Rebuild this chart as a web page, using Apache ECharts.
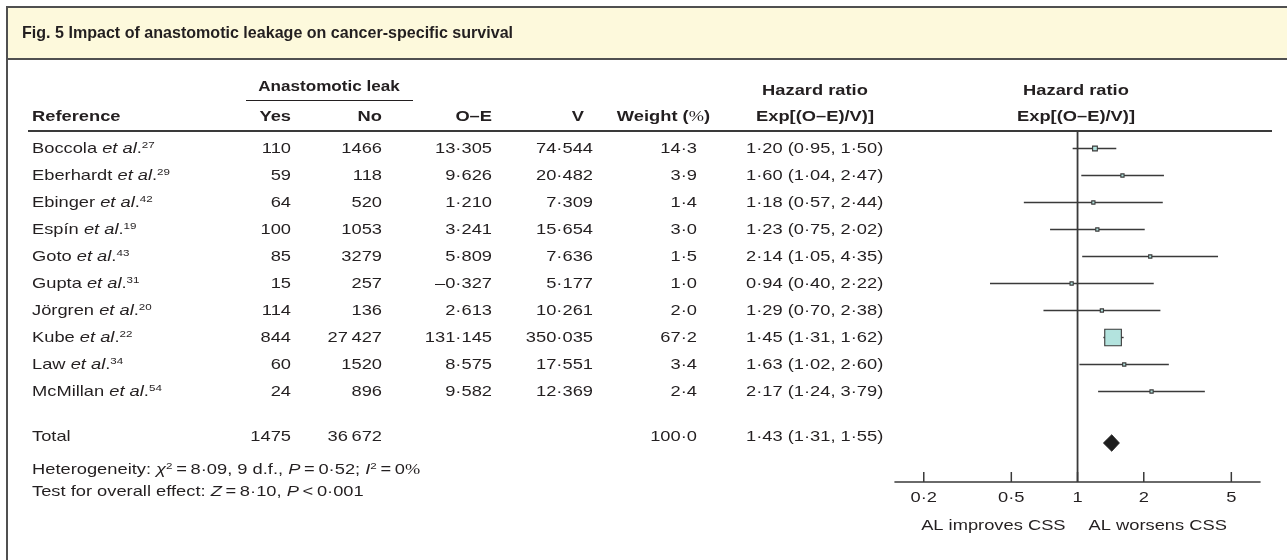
<!DOCTYPE html>
<html><head><meta charset="utf-8">
<script src="https://cdn.jsdelivr.net/npm/echarts@6/dist/echarts.min.js"></script>
<style>html,body{margin:0;padding:0;background:#fff}#c{width:1287px;height:560px}</style>
</head><body><div id="c"></div>
<script>
// ---------------- data ----------------
const studies   = ['Boccola','Eberhardt','Ebinger','Espín','Goto','Gupta','Jörgren','Kube','Law','McMillan'];
const refNums   = ['27','29','42','19','43','31','20','22','34','54'];
const leakYes   = [110, 59, 64, 100, 85, 15, 114, 844, 60, 24];
const leakNo    = [1466, 118, 520, 1053, 3279, 257, 136, 27427, 1520, 896];
const oMinusE   = [13.305, 9.626, 1.210, 3.241, 5.809, -0.327, 2.613, 131.145, 8.575, 9.582];
const varianceV = [74.544, 20.482, 7.309, 15.654, 7.636, 5.177, 10.261, 350.035, 17.551, 12.369];
const weights   = [14.3, 3.9, 1.4, 3.0, 1.5, 1.0, 2.0, 67.2, 3.4, 2.4];
const hazard    = [1.20, 1.60, 1.18, 1.23, 2.14, 0.94, 1.29, 1.45, 1.63, 2.17];
const ciLow     = [0.95, 1.04, 0.57, 0.75, 1.05, 0.40, 0.70, 1.31, 1.02, 1.24];
const ciHigh    = [1.50, 2.47, 2.44, 2.02, 4.35, 2.22, 2.38, 1.62, 2.60, 3.79];
const totalYes = 1475, totalNo = 36672, totalWeight = 100.0;
const totalHR = 1.43, totalLow = 1.31, totalHigh = 1.55;
const heteroChi2 = 8.09, heteroDf = 9, heteroP = 0.52, heteroI2 = 0;
const testZ = 8.10, testP = 0.001;
const axisTicks = [0.2, 0.5, 1, 2, 5];
const axisMin = 0.148, axisMax = 6.75;

// ---------------- layout / style ----------------
const FONT = '"Liberation Sans", Arial, Helvetica, sans-serif';
const FS = 15;
const SX = 1.22;          // horizontal stretch of the reference typography
const INK = '#231f20';
const TOP = 131, BOTTOM = 482, ROW0 = 148.5, ROWH = 27;
const yMin = (TOP - ROW0) / ROWH, yMax = (BOTTOM - ROW0) / ROWH;
const rowOf = px => (px - ROW0) / ROWH;
const ROW_TOTAL = rowOf(437), ROW_DIAMOND = rowOf(443), ROW_HET = rowOf(470), ROW_TEST = rowOf(492);
const COL = {name: 32, yes: 291, no: 382, oe: 492, v: 593, w: 697, hr: 746};

const RICH = {
  i: {fontStyle: 'italic', fontFamily: FONT, fontSize: FS, lineHeight: 17},
  s: {fontSize: 9.5, fontFamily: FONT, verticalAlign: 'top', lineHeight: 17},
  p: {fontFamily: '"Liberation Serif", "Times New Roman", serif', fontSize: FS, lineHeight: 17},
  pb: {fontFamily: '"Liberation Serif", "Times New Roman", serif', fontSize: FS, lineHeight: 17}
};

function fmt(v, d) { return (v < 0 ? '–' : '') + Math.abs(v).toFixed(d).replace('.', '·'); }
function fmtInt(n) { return n >= 10000 ? String(n).replace(/\B(?=(\d{3})+(?!\d))/g, '\u2009') : String(n); }
function hrText(h, l, u) { return fmt(h, 2) + ' (' + fmt(l, 2) + ', ' + fmt(u, 2) + ')'; }

function txt(x, y, text, align, extra, sx) {
  return {
    type: 'text', x: x, y: y, scaleX: sx || SX, silent: true,
    style: Object.assign({
      text: text, fontFamily: FONT, fontSize: FS, fill: INK, lineHeight: 17,
      align: align, textAlign: align, verticalAlign: 'middle', textVerticalAlign: 'middle', rich: RICH
    }, extra || {})
  };
}
const B = {fontWeight: 'bold'};

const chart = echarts.init(document.getElementById('c'), null, {renderer: 'canvas'});

const option = {
  backgroundColor: '#ffffff',
  animation: false,
  grid: [
    {left: 0, right: 0, top: TOP, bottom: 560 - BOTTOM, outerBoundsMode: 'none'},
    {left: 895, right: 27, top: TOP, bottom: 560 - BOTTOM, outerBoundsMode: 'none'}
  ],
  xAxis: [
    {gridIndex: 0, type: 'value', min: 0, max: 1287, show: false},
    {gridIndex: 1, type: 'log', logBase: 10, min: axisMin, max: axisMax, position: 'bottom',
     axisLine: {show: true, onZero: false, lineStyle: {color: '#3a3a3a', width: 1.6}},
     axisTick: {show: false}, axisLabel: {show: false}, splitLine: {show: false}}
  ],
  yAxis: [
    {gridIndex: 0, type: 'value', inverse: true, min: yMin, max: yMax, show: false},
    {gridIndex: 1, type: 'value', inverse: true, min: yMin, max: yMax, show: false}
  ],
  graphic: [
    // frame and title band
    {type: 'rect', silent: true, z: 0, shape: {x: 7, y: 7, width: 1300, height: 52},
     style: {fill: '#fdf9dc', stroke: '#505050', lineWidth: 2}},
    {type: 'line', silent: true, shape: {x1: 7, y1: 7, x2: 7, y2: 560}, style: {stroke: '#505050', lineWidth: 2}},
    txt(22, 33, 'Fig. 5 Impact of anastomotic leakage on cancer-specific survival', 'left', {fontWeight: 'bold', fontSize: 17}, 0.945),
    // column headers
    txt(329, 87, 'Anastomotic leak', 'center', B, 1.14),
    {type: 'line', silent: true, shape: {x1: 246, y1: 100.5, x2: 413, y2: 100.5}, style: {stroke: INK, lineWidth: 1.2}},
    txt(COL.name, 117, 'Reference', 'left', B),
    txt(COL.yes, 117, 'Yes', 'right', B),
    txt(COL.no, 117, 'No', 'right', B),
    txt(COL.oe, 117, 'O–E', 'right', B),
    txt(584, 117, 'V', 'right', B),
    txt(710, 117, 'Weight ({pb|%})', 'right', B),
    txt(815, 91, 'Hazard ratio', 'center', B),
    txt(815, 117, 'Exp[(O–E)/V)]', 'center', B),
    txt(1076, 91, 'Hazard ratio', 'center', B),
    txt(1076, 117, 'Exp[(O–E)/V)]', 'center', B),
    {type: 'line', silent: true, shape: {x1: 28, y1: 131, x2: 1272, y2: 131}, style: {stroke: '#3a3a3a', lineWidth: 2}}
  ],
  series: [
    // table rows
    {
      type: 'custom', xAxisIndex: 0, yAxisIndex: 0, clip: false, silent: true,
      data: studies.map((s, i) => [i]),
      renderItem: function (params, api) {
        const i = api.value(0);
        const X = v => api.coord([v, i])[0];
        const y = api.coord([0, i])[1];
        return {type: 'group', children: [
          txt(X(COL.name), y, studies[i] + ' {i|et al}.{s|' + refNums[i] + '}', 'left'),
          txt(X(COL.yes), y, fmtInt(leakYes[i]), 'right'),
          txt(X(COL.no), y, fmtInt(leakNo[i]), 'right'),
          txt(X(COL.oe), y, fmt(oMinusE[i], 3), 'right'),
          txt(X(COL.v), y, fmt(varianceV[i], 3), 'right'),
          txt(X(COL.w), y, fmt(weights[i], 1), 'right'),
          txt(X(COL.hr), y, hrText(hazard[i], ciLow[i], ciHigh[i]), 'left')
        ]};
      }
    },
    // total + footnotes
    {
      type: 'custom', xAxisIndex: 0, yAxisIndex: 0, clip: false, silent: true,
      data: [[ROW_TOTAL, ROW_HET, ROW_TEST]],
      renderItem: function (params, api) {
        const yT = api.coord([0, api.value(0)])[1];
        const yH = api.coord([0, api.value(1)])[1];
        const yZ = api.coord([0, api.value(2)])[1];
        const X = v => api.coord([v, 0])[0];
        return {type: 'group', children: [
          txt(X(COL.name), yT, 'Total', 'left'),
          txt(X(COL.yes), yT, fmtInt(totalYes), 'right'),
          txt(X(COL.no), yT, fmtInt(totalNo), 'right'),
          txt(X(COL.w), yT, fmt(totalWeight, 1), 'right'),
          txt(X(COL.hr), yT, hrText(totalHR, totalLow, totalHigh), 'left'),
          txt(X(COL.name), yH, 'Heterogeneity: {i|χ}{s|2}\u2009=\u2009' + fmt(heteroChi2, 2) + ', ' + heteroDf +
              ' d.f., {i|P}\u2009=\u2009' + fmt(heteroP, 2) + '; {i|I}{s|2}\u2009=\u2009' + heteroI2 + '{p|%}', 'left'),
          txt(X(COL.name), yZ, 'Test for overall effect: {i|Z}\u2009=\u2009' + fmt(testZ, 2) + ', {i|P}\u2009<\u2009' + fmt(testP, 3), 'left')
        ]};
      }
    },
    // line of no effect
    {
      type: 'custom', xAxisIndex: 1, yAxisIndex: 1, clip: false, silent: true, z: 1,
      data: [[1]],
      renderItem: function (params, api) {
        const a = api.coord([api.value(0), yMin]);
        const b = api.coord([api.value(0), yMax]);
        return {type: 'line', shape: {x1: a[0], y1: a[1], x2: b[0], y2: b[1]}, style: {stroke: '#3a3a3a', lineWidth: 1.8}};
      }
    },
    // study estimates
    {
      type: 'custom', xAxisIndex: 1, yAxisIndex: 1, clip: false, silent: true, z: 3,
      data: hazard.map((h, i) => [h, ciLow[i], ciHigh[i], i, weights[i]]),
      renderItem: function (params, api) {
        const row = api.value(3);
        const c = api.coord([api.value(0), row]);
        const l = api.coord([api.value(1), row]);
        const r = api.coord([api.value(2), row]);
        const s = Math.max(3.2, 0.55 * Math.pow(api.value(4), 0.81));
        return {type: 'group', children: [
          {type: 'line', shape: {x1: l[0], y1: c[1], x2: r[0], y2: c[1]}, style: {stroke: '#3a3a3a', lineWidth: 1.4}},
          {type: 'rect', shape: {x: c[0] - s / 2, y: c[1] - s / 2, width: s, height: s},
           style: {fill: '#b3e3de', stroke: '#3a3a3a', lineWidth: 1.1}}
        ]};
      }
    },
    // pooled diamond
    {
      type: 'custom', xAxisIndex: 1, yAxisIndex: 1, clip: false, silent: true, z: 3,
      data: [[totalHR, totalLow, totalHigh, ROW_DIAMOND]],
      renderItem: function (params, api) {
        const c = api.coord([api.value(0), api.value(3)]);
        const l = api.coord([api.value(1), api.value(3)]);
        const r = api.coord([api.value(2), api.value(3)]);
        const h = 8.3;
        return {type: 'polygon', shape: {points: [[l[0], c[1]], [c[0], c[1] - h], [r[0], c[1]], [c[0], c[1] + h]]},
                style: {fill: '#1e1e1e', stroke: '#1e1e1e', lineWidth: 0.8}};
      }
    },
    // axis ticks, tick labels and direction labels
    {
      type: 'custom', xAxisIndex: 1, yAxisIndex: 1, clip: false, silent: true, z: 2,
      data: axisTicks.map(t => [t]),
      renderItem: function (params, api) {
        const t = api.value(0);
        const p = api.coord([t, yMax]);
        const kids = [
          {type: 'line', shape: {x1: p[0], y1: p[1], x2: p[0], y2: p[1] - 10}, style: {stroke: '#3a3a3a', lineWidth: 1.5}},
          txt(p[0], p[1] + 16, fmt(t, t < 1 ? 1 : 0), 'center')
        ];
        if (t === 1) {
          kids.push(txt(p[0] - 12, p[1] + 44, 'AL improves CSS', 'right'));
          kids.push(txt(p[0] + 11, p[1] + 44, 'AL worsens CSS', 'left'));
        }
        return {type: 'group', children: kids};
      }
    }
  ]
};
chart.setOption(option);
</script>
</body></html>
